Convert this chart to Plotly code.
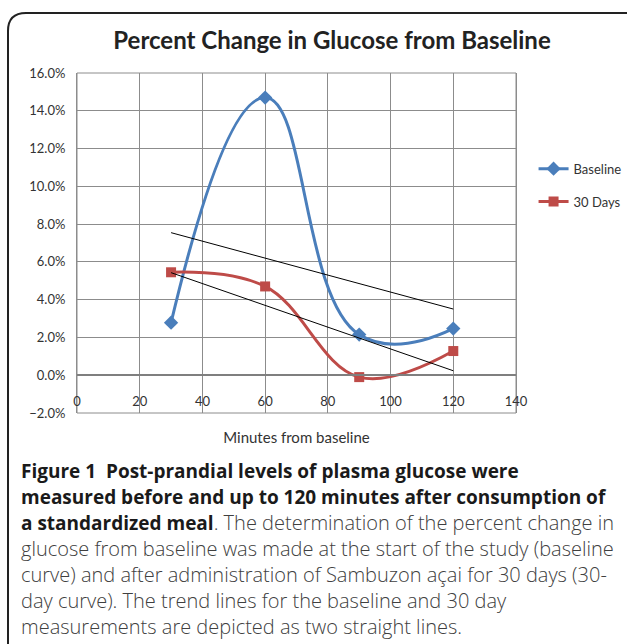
import numpy as np
import plotly.graph_objects as go

minutes = [30, 60, 90, 120]
baseline = [0.0278, 0.1470, 0.0215, 0.0247]
days30 = [0.0545, 0.0470, -0.0010, 0.0128]
y_ticks = [-0.02, 0.0, 0.02, 0.04, 0.06, 0.08, 0.10, 0.12, 0.14, 0.16]
x_ticks = [0, 20, 40, 60, 80, 100, 120, 140]

BLUE = "#4A7EBB"
RED = "#BE4B48"
GRID = "#8C8C8C"
FONT = "Lato"

fig = go.Figure()
fig.add_trace(go.Scatter(
    x=minutes, y=baseline, name="Baseline", mode="lines+markers",
    line=dict(color=BLUE, width=3, shape="spline", smoothing=1.3),
    marker=dict(symbol="diamond", size=11, color=BLUE),
    legendgroup="a"))
fig.add_trace(go.Scatter(
    x=minutes, y=days30, name="30 Days", mode="lines+markers",
    line=dict(color=RED, width=3, shape="spline", smoothing=1.1),
    marker=dict(symbol="square", size=10, color=RED),
    legendgroup="b"))

# linear trend lines
xs = np.array([min(minutes), max(minutes)], dtype=float)
for series in (baseline, days30):
    k, b = np.polyfit(minutes, series, 1)
    fig.add_trace(go.Scatter(x=xs, y=k * xs + b, mode="lines",
                             line=dict(color="black", width=1),
                             showlegend=False, hoverinfo="skip"))

ymin, ymax = y_ticks[0], y_ticks[-1]
zero_pos = (0 - ymin) / (ymax - ymin)

W, H = 627, 644
L, R, T, B = 77, 111, 73, 231
pw, ph = W - L - R, H - T - B

def px2paper(x, y):
    return (x - L) / pw, (H - B - y) / ph

fig.update_layout(
    width=W, height=H,
    margin=dict(l=L, r=R, t=T, b=B, autoexpand=False),
    paper_bgcolor="white", plot_bgcolor="white",
    font=dict(family=FONT, size=13, color="#333333"),
    title=dict(text="<b>Percent Change in Glucose from Baseline</b>",
               font=dict(family=FONT, size=24, color="#222222"),
               x=332 / W, xref="container", xanchor="center",
               y=1 - 41 / H, yref="container", yanchor="middle"),
    xaxis=dict(range=[x_ticks[0], x_ticks[-1]], tickvals=x_ticks,
               showgrid=True, gridcolor=GRID, gridwidth=1,
               zeroline=False, showline=True, linecolor="#7F7F7F", linewidth=2,
               anchor="free", position=zero_pos,
               ticks="", ticklen=0, tickcolor="rgba(0,0,0,0)",
               ticklabelstandoff=14,
               tickfont=dict(size=13, color="#333333"),
               title=dict(text="Minutes from baseline", standoff=24,
                          font=dict(size=15, color="#333333")),
               automargin=False),
    yaxis=dict(range=[ymin, ymax], tickvals=y_ticks, tickformat=".1%",
               showgrid=True, gridcolor=GRID, gridwidth=1,
               zeroline=False, showline=True, mirror=True,
               linecolor=GRID, linewidth=1,
               ticks="", ticklen=0, tickcolor="rgba(0,0,0,0)",
               ticklabelstandoff=8,
               tickfont=dict(size=13, color="#333333"),
               automargin=False),
    legend=dict(x=1.04, xanchor="left", y=0.67, yanchor="middle",
                font=dict(size=13, color="#333333"), tracegroupgap=13,
                bgcolor="rgba(0,0,0,0)"),
    showlegend=True,
)

# top and bottom border of the plot area
fig.add_shape(type="rect", xref="paper", yref="paper", x0=0, y0=0, x1=1, y1=1,
              line=dict(color=GRID, width=1), layer="below")

# outer rounded frame of the figure box
x0, y0 = px2paper(8, 13)
x1, y1 = px2paper(660, 680)
rx, ry = px2paper(8 + 18, 13 + 18)
fig.add_shape(type="path", xref="paper", yref="paper",
              path=(f"M {x0} {y1} L {x0} {ry} Q {x0} {y0} {rx} {y0} L {x1} {y0}"),
              line=dict(color="#222222", width=2))

def bold(s):
    return f'<span style="font-size:19px;color:#1a1a1a"><b>{s}</b></span>'

caption = (bold("Figure 1  Post-prandial levels of plasma glucose were") + "<br>"
           + bold("measured before and up to 120 minutes after consumption of") + "<br>"
           + bold("a standardized meal") + ". The determination of the percent change in<br>"
           "glucose from baseline was made at the start of the study (baseline<br>"
           "curve) and after administration of Sambuzon açai for 30 days (30-<br>"
           "day curve). The trend lines for the baseline and 30 day<br>"
           "measurements are depicted as two straight lines.")
cx, cy = px2paper(19, 456)
fig.add_annotation(text=caption, xref="paper", yref="paper", x=cx, y=cy,
                   xanchor="left", yanchor="top", align="left", showarrow=False,
                   font=dict(family="Open Sans", size=20, color="#404040",
                             weight=300))

fig.write_html("out.html", config={"displayModeBar": False},
               post_script="document.body.style.margin='0';")
